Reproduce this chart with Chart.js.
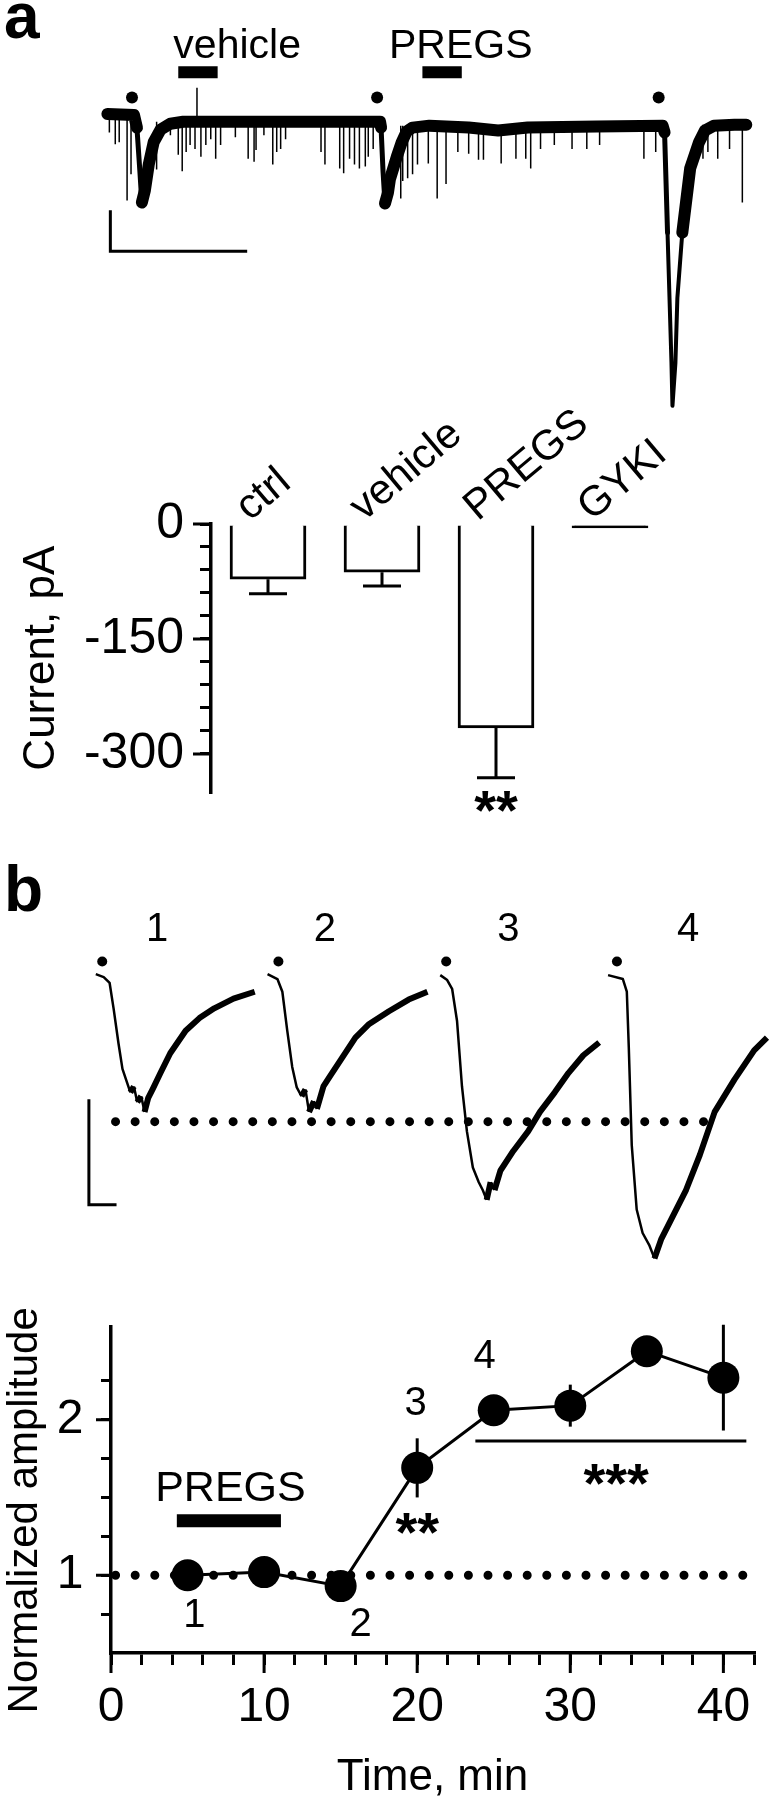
<!DOCTYPE html>
<html>
<head>
<meta charset="utf-8">
<script src="https://cdn.jsdelivr.net/npm/chart.js@4.4.1/dist/chart.umd.min.js"></script>
<style>
  html, body { margin: 0; background: #fff; }
  #page { position: relative; width: 770px; height: 1800px; overflow: hidden; background: #fff; }
  canvas { position: absolute; left: 0; }
</style>
</head>
<body>
<div id="page">
  <canvas id="sweepA" width="770" height="440" style="top:0"></canvas>
  <canvas id="barsA" width="770" height="460" style="top:380px"></canvas>
  <canvas id="sweepB" width="770" height="430" style="top:850px"></canvas>
  <canvas id="course" width="770" height="520" style="top:1280px"></canvas>
</div>
<script>
const FONT = '"Liberation Sans", Arial, Helvetica, sans-serif';

// Panel a, continuous recording (time s, current pA)
const sweepT = [10.3, 13.0, 13.3, 13.6, 13.8, 14.1, 14.5, 15.0, 15.7, 16.7, 18.0, 26.0, 38.0,
  38.1, 38.3, 38.5, 38.8, 39.0, 39.7, 40.2, 40.7, 41.3, 43.0, 47.0, 50.0, 53.0, 60.0, 66.7,
  66.9, 67.2, 67.6, 67.7, 68.0, 68.2, 68.7, 69.5, 70.4, 71.0, 71.9, 74.0, 75.2];
const sweepI = [-1, -2, -15, -60, -92, -80, -53, -30, -17, -11, -9, -9, -9,
  -15, -60, -93, -82, -68, -45, -30, -19, -15, -13, -15, -18, -15, -14, -13,
  -20, -123, -257, -301, -257, -190, -123, -57, -30, -18, -13, -12, -12];
// baseline level under the spontaneous events
const bandT = [10, 13, 38, 66.8];
const bandI = [-1, -9, -13, -12];
// spontaneous events (and the stimulus artefact at 19.4 s)
const eventT = [10.5, 11.1, 11.5, 12.3, 12.7, 15.3, 16.7, 17.5, 17.9, 18.3, 18.7, 19.2, 19.4, 19.8, 20.3,
  20.8, 21.3, 21.8, 23.3, 24.6, 25.2, 25.4, 26.2, 27.1, 27.5, 27.9, 28.4, 32.0, 32.4, 33.9, 34.3, 34.9,
  35.4, 35.9, 36.5, 36.8, 37.3,
  40.1, 40.3, 40.8, 41.3, 41.8, 42.9, 43.8, 44.7, 45.9, 47.0, 48.0, 48.5, 50.3, 51.8, 52.8, 53.3, 54.3,
  55.7, 57.5, 59.0, 60.3, 64.8, 66.0,
  70.8, 71.3, 72.3, 73.5, 74.8];
const eventTip = [-20, -32, -30, -90, -63, -58, -23, -43, -60, -40, -33, -37, 26, -45, -33,
  -27, -47, -33, -25, -47, -50, -38, -23, -53, -40, -37, -27, -40, -53, -57, -62, -47,
  -53, -57, -55, -45, -37,
  -88, -70, -67, -63, -53, -52, -88, -73, -40, -42, -48, -48, -52, -47, -47, -57, -37,
  -33, -37, -37, -33, -47, -40,
  -47, -40, -47, -37, -92];
const stimT = [12.8, 37.7, 66.3];
const drugNames = ['vehicle', 'PREGS'];
const drugOn = [17.5, 42.3];
const drugOff = [21.5, 46.3];
const scaleAT = [10.6, 10.6, 24.5];
const scaleAI = [-100, -142, -142];

// Panel a, mean current
const groups = ['ctrl', 'vehicle', 'PREGS', 'GYKI'];
const meanCurrent = [-72, -63, -266, -5];
const semCurrent = [19, 18, 65, 0];

// Panel b, evoked currents 1-4 (ms, pA)
const b1T = [0, 4, 7, 9, 11.5, 13.5, 15.5, 17.5, 19.3, 21, 23, 24.7, 26.5, 29, 32.8, 37.7, 45.5, 52.5, 60, 69.75, 80.5];
const b1I = [0.5, -1, -4, -17, -35, -48, -54, -60, -57, -65, -62, -70, -63, -58, -50, -40, -28.5, -22, -17, -12, -8.5];
const b2T = [87, 92, 94.5, 97, 99.5, 101.8, 104.2, 106.2, 108, 110.5, 112, 115.3, 118.5, 124, 131.5, 138.5, 148.5, 158.5, 168];
const b2I = [0.5, -2, -8.5, -28.5, -47, -57.5, -62, -58.5, -70, -64.5, -68.5, -57, -52, -43.5, -32, -25, -18.5, -12.5, -8.5];
const b3T = [174.5, 178, 180.5, 183, 185.5, 188, 191, 194, 196, 198, 200, 202, 205, 211.5, 219, 225, 232.5, 239.5, 247, 255];
const b3I = [0, -2.5, -7, -23.5, -57, -80, -98.5, -106, -110, -115, -106, -110, -100, -90, -80, -70, -60, -50, -41, -34.5];
const b4T = [259.5, 267, 269, 270, 271.5, 274, 277, 280.5, 283, 286.5, 291.5, 299, 306, 313.5, 323.5, 333.5, 340];
const b4I = [0, -2, -8.5, -37, -87, -120, -132, -138.5, -145, -135, -125, -110, -92, -70, -53.5, -38.5, -32];
const bStimT = [3.25, 92.5, 177.5, 264];
const bLabels = ['1', '2', '3', '4'];
const bLabelT = [31, 116, 209, 300];
const bRefT = [10, 315];
const bRefI = [-75, -75];
const scaleBT = [-3.5, -3.5, 10.5];
const scaleBI = [-63.5, -117.5, -117.5];

// Panel b, time course
const timeMin = [5, 10, 15, 20, 25, 30, 35, 40];
const ampNorm = [1.00, 1.02, 0.93, 1.69, 2.06, 2.09, 2.44, 2.27];
const ampErr = [0, 0, 0, 0.19, 0, 0.135, 0, 0.34];
const refT = [0.3, 41.4];
const refLevel = [1, 1];
const pregsT = [4.3, 11.1];
const pregsLevel = [1.35, 1.35];
const sigT = [23.8, 41.5];
const sigLevel = [1.863, 1.863];

Chart.defaults.font.family = FONT;
Chart.defaults.color = '#000';
Chart.defaults.animation = false;
Chart.defaults.responsive = false;
Chart.defaults.plugins.legend.display = false;
Chart.defaults.plugins.tooltip.enabled = false;
Chart.defaults.plugins.colors.enabled = false;
Chart.defaults.elements.point.radius = 0;

const pts = (xs, ys) => xs.map((x, i) => ({ x, y: ys[i] }));
const line = (data, extra) => Object.assign({
  data, borderColor: '#000', backgroundColor: '#000', borderWidth: 3,
  pointRadius: 0, clip: false, fill: false, tension: 0
}, extra || {});

function levelAt(t) {
  let v = bandI[0];
  bandT.forEach((b, i) => { if (t >= b) v = bandI[i]; });
  return v;
}

// text drawn at data coordinates of a chart
function texts(items) {
  return {
    id: 'texts',
    afterDraw(chart) {
      const { ctx, scales: { x, y } } = chart;
      items.forEach(n => {
        ctx.save();
        ctx.font = n.font;
        ctx.fillStyle = '#000';
        ctx.textAlign = n.align || 'center';
        ctx.textBaseline = n.base || 'alphabetic';
        ctx.translate(x.getPixelForValue(n.x), y.getPixelForValue(n.y) + (n.dy || 0));
        if (n.rot) ctx.rotate(n.rot * Math.PI / 180);
        ctx.fillText(n.text, 0, 0);
        ctx.restore();
      });
    }
  };
}

// longer tick marks at the labelled values
function majorTicks(axis, values, len) {
  return {
    id: 'major_' + axis,
    afterDraw(chart) {
      const s = chart.scales[axis];
      const ctx = chart.ctx;
      ctx.save();
      ctx.strokeStyle = '#000';
      ctx.lineWidth = 3;
      ctx.beginPath();
      values.forEach(v => {
        const p = s.getPixelForValue(v);
        if (s.isHorizontal()) { ctx.moveTo(p, s.top); ctx.lineTo(p, s.top + len); }
        else { ctx.moveTo(s.right - len, p); ctx.lineTo(s.right, p); }
      });
      ctx.stroke();
      ctx.restore();
    }
  };
}

const star = (size) => ({ font: 'bold ' + size + 'px ' + FONT, dy: 0.575 * size });

// ---------- panel a traces ----------
const events = [];
eventT.forEach((t, i) => {
  events.push({ x: t, y: levelAt(t) }, { x: t, y: eventTip[i] }, { x: t, y: null });
});

new Chart(document.getElementById('sweepA'), {
  type: 'line',
  data: {
    datasets: [
      line(pts(sweepT, sweepI), {
        borderWidth: 12, borderJoinStyle: 'round', borderCapStyle: 'round',
        segment: {
          borderWidth: c => {
            const a = c.p0.parsed.y, b = c.p1.parsed.y;
            if (Math.min(a, b) < -130) return 4;
            if (b < a - 20) return 5;
            return 12;
          }
        }
      }),
      line(events, { borderWidth: 1.5, spanGaps: false }),
      line(stimT.map(t => ({ x: t, y: 16 })), { showLine: false, pointRadius: 6, pointBorderWidth: 0 }),
      ...drugNames.map((d, i) => line(pts([drugOn[i], drugOff[i]], [42, 42]), { borderWidth: 12, borderCapStyle: 'butt' })),
      line(pts(scaleAT, scaleAI), { borderWidth: 3 })
    ]
  },
  options: {
    layout: { padding: 0 },
    scales: {
      x: { type: 'linear', display: false, min: 0, max: 77 },
      y: { type: 'linear', display: false, min: -330, max: 110 }
    }
  },
  plugins: [texts([
    { text: 'a', x: -0.2, y: 77, align: 'left', font: 'bold 64px ' + FONT },
    { text: drugNames[0], x: 17.0, y: 57, align: 'left', font: '41px ' + FONT },
    { text: drugNames[1], x: 38.9, y: 57, align: 'left', font: '41px ' + FONT }
  ])]
});

// ---------- panel a bar chart ----------
const barErrors = {
  id: 'barErrors',
  afterDatasetsDraw(chart) {
    const { ctx, scales: { y } } = chart;
    const bars = chart.getDatasetMeta(0).data;
    ctx.save();
    ctx.strokeStyle = '#000';
    ctx.lineWidth = 3;
    bars.forEach((bar, i) => {
      if (!semCurrent[i]) return;
      const y0 = y.getPixelForValue(meanCurrent[i]);
      const y1 = y.getPixelForValue(meanCurrent[i] - semCurrent[i]);
      ctx.beginPath();
      ctx.moveTo(bar.x, y0); ctx.lineTo(bar.x, y1);
      ctx.moveTo(bar.x - 19, y1); ctx.lineTo(bar.x + 19, y1);
      ctx.stroke();
    });
    ctx.restore();
  }
};

new Chart(document.getElementById('barsA'), {
  type: 'bar',
  data: {
    labels: groups,
    datasets: [{
      data: meanCurrent,
      backgroundColor: ['#fff', '#fff', '#fff', '#000'],
      borderColor: '#000',
      borderWidth: 3,
      borderSkipped: 'start',
      barThickness: 76
    }]
  },
  options: {
    layout: { padding: { left: 15, right: 103, top: 144, bottom: 47.7 } },
    scales: {
      x: { display: false },
      y: {
        min: -350, max: 0,
        afterFit: s => { s.width = 196; },
        border: { display: true, color: '#000', width: 3.5 },
        grid: {
          drawOnChartArea: false, tickLength: 11, lineWidth: 3,
          color: c => (c.tick && c.tick.value === -350) ? 'rgba(0,0,0,0)' : '#000'
        },
        ticks: {
          stepSize: 30, autoSkip: false, padding: 16, color: '#000',
          font: { size: 50 },
          callback: v => (v % 150 === 0 ? String(v) : '')
        },
        title: {
          display: true, text: 'Current, pA', color: '#000',
          font: { size: 44, lineHeight: 1.2 }, padding: { top: 0, bottom: 0 }
        }
      }
    }
  },
  plugins: [barErrors, majorTicks('y', [0, -150, -300], 18), texts([
    ...groups.map((g, i) => ({ text: g, x: i - 0.16, y: 3, align: 'left', rot: -40, font: '42px ' + FONT })),
    Object.assign({ text: '**', x: 2, y: -356 }, star(56))
  ])]
});

// ---------- panel b traces ----------
const bWidth = { borderWidth: c => (c.p1.parsed.y > c.p0.parsed.y + 0.5 ? 6 : 2.5) };
new Chart(document.getElementById('sweepB'), {
  type: 'line',
  data: {
    datasets: [
      ...[[b1T, b1I], [b2T, b2I], [b3T, b3I], [b4T, b4I]].map(([t, i]) =>
        line(pts(t, i), { borderWidth: 3, borderJoinStyle: 'round', segment: bWidth })),
      line(pts(bRefT, bRefI), { borderWidth: 9, borderDash: [0, 19.6], borderCapStyle: 'round' }),
      line(bStimT.map(t => ({ x: t, y: 7 })), { showLine: false, pointRadius: 5, pointBorderWidth: 0 }),
      line(pts(scaleBT, scaleBI), { borderWidth: 3 })
    ]
  },
  options: {
    layout: { padding: 0 },
    scales: {
      x: { type: 'linear', display: false, min: -46, max: 339 },
      y: { type: 'linear', display: false, min: -153.5, max: 61.5 }
    }
  },
  plugins: [texts([
    { text: 'b', x: -46.5, y: 33, align: 'left', font: 'bold 64px ' + FONT },
    ...bLabels.map((s, i) => ({ text: s, x: bLabelT[i], y: 23, base: 'middle', font: '40px ' + FONT }))
  ])]
});

// ---------- time course ----------
const ampErrors = {
  id: 'ampErrors',
  afterDatasetsDraw(chart) {
    const { ctx, scales: { x, y } } = chart;
    ctx.save();
    ctx.strokeStyle = '#000';
    ctx.lineWidth = 3;
    timeMin.forEach((t, i) => {
      if (!ampErr[i]) return;
      const px = x.getPixelForValue(t);
      ctx.beginPath();
      ctx.moveTo(px, y.getPixelForValue(ampNorm[i] - ampErr[i]));
      ctx.lineTo(px, y.getPixelForValue(ampNorm[i] + ampErr[i]));
      ctx.stroke();
    });
    ctx.restore();
  }
};

const near = (v, list) => list.some(w => Math.abs(v - w) < 1e-6);

new Chart(document.getElementById('course'), {
  type: 'line',
  data: {
    datasets: [
      line(pts(timeMin, ampNorm), { borderWidth: 3, pointRadius: 16, pointBorderWidth: 0, pointBackgroundColor: '#000' }),
      line(pts(sigT, sigLevel), { borderWidth: 3 }),
      line(pts(pregsT, pregsLevel), { borderWidth: 13, borderCapStyle: 'butt' }),
      line(pts(refT, refLevel), { borderWidth: 9, borderDash: [0, 19.6], borderCapStyle: 'round' })
    ]
  },
  options: {
    layout: { padding: { left: 0, right: 11.4, top: 18, bottom: 0 } },
    scales: {
      x: {
        type: 'linear', min: 0, max: 42,
        afterFit: s => { s.height = 147; },
        border: { display: true, color: '#000', width: 3.5 },
        grid: { drawOnChartArea: false, tickLength: 12, lineWidth: 3, color: '#000' },
        ticks: {
          stepSize: 2, autoSkip: false, maxRotation: 0, minRotation: 0, padding: 14,
          color: '#000', font: { size: 48 },
          callback: v => (near(v, [0, 10, 20, 30, 40]) ? String(Math.round(v)) : '')
        },
        title: {
          display: true, text: 'Time, min', color: '#000',
          font: { size: 44, lineHeight: 1.0 }, padding: { top: 0, bottom: 0 }
        }
      },
      y: {
        type: 'linear', min: 0.5, max: 2.6,
        afterFit: s => { s.width = 111; },
        border: { display: true, color: '#000', width: 3.5 },
        grid: {
          drawOnChartArea: false, tickLength: 10, lineWidth: 3,
          color: c => (c.tick && near(c.tick.value, [0.5, 2.6])) ? 'rgba(0,0,0,0)' : '#000'
        },
        ticks: {
          stepSize: 0.25, autoSkip: false, padding: 17.5, color: '#000',
          font: { size: 48 },
          callback: v => (near(v, [1, 2]) ? String(Math.round(v)) : '')
        }
      }
    }
  },
  plugins: [ampErrors, majorTicks('x', [0, 10, 20, 30, 40], 20), majorTicks('y', [1, 2], 15), texts([
    { text: 'Normalized amplitude', x: -5.58, y: 1.417, rot: -90, base: 'middle', font: '42px ' + FONT },
    { text: 'PREGS', x: 7.8, y: 1.476, font: '43px ' + FONT },
    { text: '1', x: 5.45, y: 0.74, base: 'middle', font: '40px ' + FONT },
    { text: '2', x: 16.3, y: 0.68, base: 'middle', font: '40px ' + FONT },
    { text: '3', x: 19.9, y: 2.10, base: 'middle', font: '40px ' + FONT },
    { text: '4', x: 24.4, y: 2.40, base: 'middle', font: '40px ' + FONT },
    Object.assign({ text: '**', x: 20.0, y: 1.36 }, star(56)),
    Object.assign({ text: '***', x: 33.0, y: 1.68 }, star(56))
  ])]
});
</script>
</body>
</html>
